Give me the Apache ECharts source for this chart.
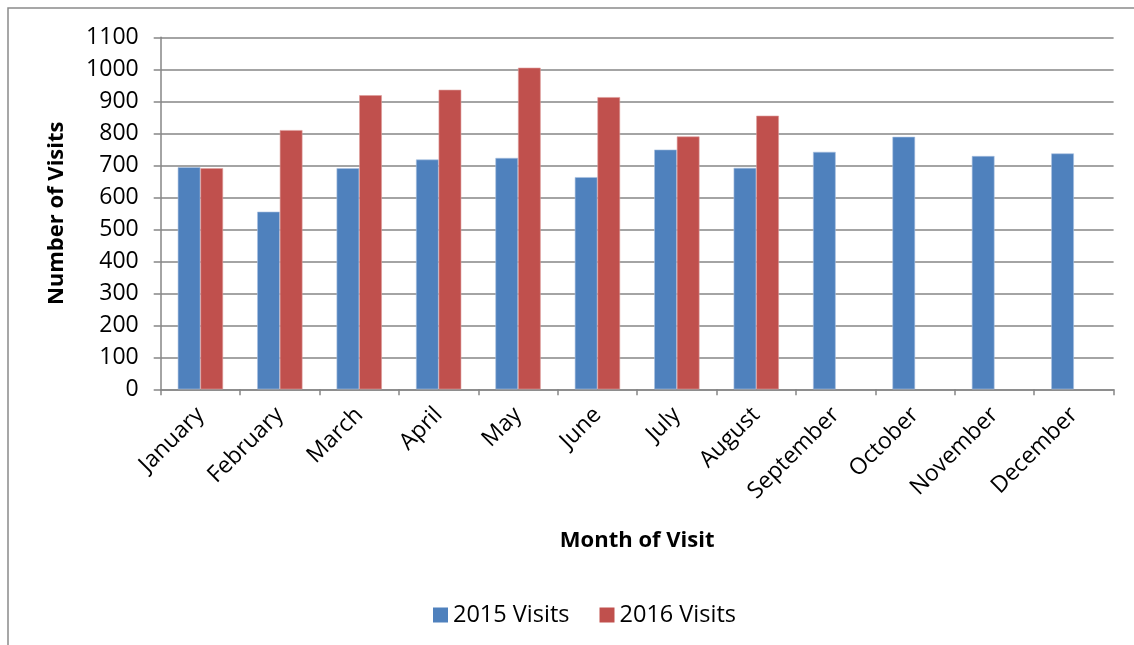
<!DOCTYPE html>
<html>
<head>
<meta charset="utf-8">
<script src="https://cdn.jsdelivr.net/npm/echarts@6/dist/echarts.min.js"></script>
<style>
html,body{margin:0;padding:0;background:#fff;}
#chart{width:1134px;height:645px;}
</style>
</head>
<body>
<div id="chart"></div>
<script>
var months = ['January','February','March','April','May','June','July','August','September','October','November','December'];
var visits2015 = [694, 555, 691, 718, 723, 663, 749, 692, 742, 789, 729, 737];
var visits2016 = [691, 810, 919, 936, 1005, 913, 790, 855, null, null, null, null];
var seriesNames = ['2015 Visits', '2016 Visits'];
var yTicks = {min: 0, max: 1100, interval: 100};

var FONT = '"Open Sans", "DejaVu Sans", sans-serif';
var chart = echarts.init(document.getElementById('chart'), null, {renderer: 'canvas'});
chart.setOption({
  animation: false,
  backgroundColor: '#ffffff',
  textStyle: {fontFamily: FONT},
  graphic: [{
    type: 'rect',
    shape: {x: 8, y: 8, width: 1200, height: 700},
    style: {fill: 'none', stroke: '#8a8a8a', lineWidth: 1.5},
    silent: true
  }],
  grid: {left: 160.7, top: 37.3, right: 20.4, bottom: 255.7, containLabel: false},
  legend: {
    data: seriesNames,
    left: 428,
    top: 598,
    itemWidth: 15,
    itemHeight: 15,
    itemGap: 30,
    icon: 'rect',
    itemStyle: {borderWidth: 0},
    textStyle: {fontFamily: FONT, fontSize: 23.5, color: '#000'}
  },
  xAxis: {
    type: 'category',
    data: months,
    name: 'Month of Visit',
    nameLocation: 'middle',
    nameGap: 140,
    nameTextStyle: {fontFamily: FONT, fontSize: 22, fontWeight: 'bold', color: '#000'},
    axisLine: {lineStyle: {color: '#868686', width: 1.5}},
    axisTick: {show: true, length: 6, lineStyle: {color: '#868686', width: 1.5}},
    axisLabel: {rotate: 45, fontFamily: FONT, fontSize: 23, color: '#000', margin: 22, interval: 0}
  },
  yAxis: {
    type: 'value',
    min: yTicks.min,
    max: yTicks.max,
    interval: yTicks.interval,
    name: 'Number of Visits',
    nameLocation: 'middle',
    nameGap: 93,
    nameTextStyle: {fontFamily: FONT, fontSize: 22, fontWeight: 'bold', color: '#000'},
    axisLine: {show: true, lineStyle: {color: '#868686', width: 1.5}},
    axisTick: {show: true, length: 7, lineStyle: {color: '#868686', width: 1.5}},
    axisLabel: {fontFamily: FONT, fontSize: 23, color: '#000', margin: 22, formatter: function (v) { return String(v); }},
    splitLine: {show: true, lineStyle: {color: '#868686', width: 1.5}}
  },
  series: [{
    name: seriesNames[0],
    type: 'bar',
    data: visits2015,
    barGap: '0%',
    barCategoryGap: '43%',
    itemStyle: {color: '#4F81BD', borderColor: '#a9c1e0', borderWidth: 0.6}
  }, {
    name: seriesNames[1],
    type: 'bar',
    data: visits2016,
    itemStyle: {color: '#C0504D', borderColor: '#dd9c9a', borderWidth: 0.6}
  }]
});
</script>
</body>
</html>
